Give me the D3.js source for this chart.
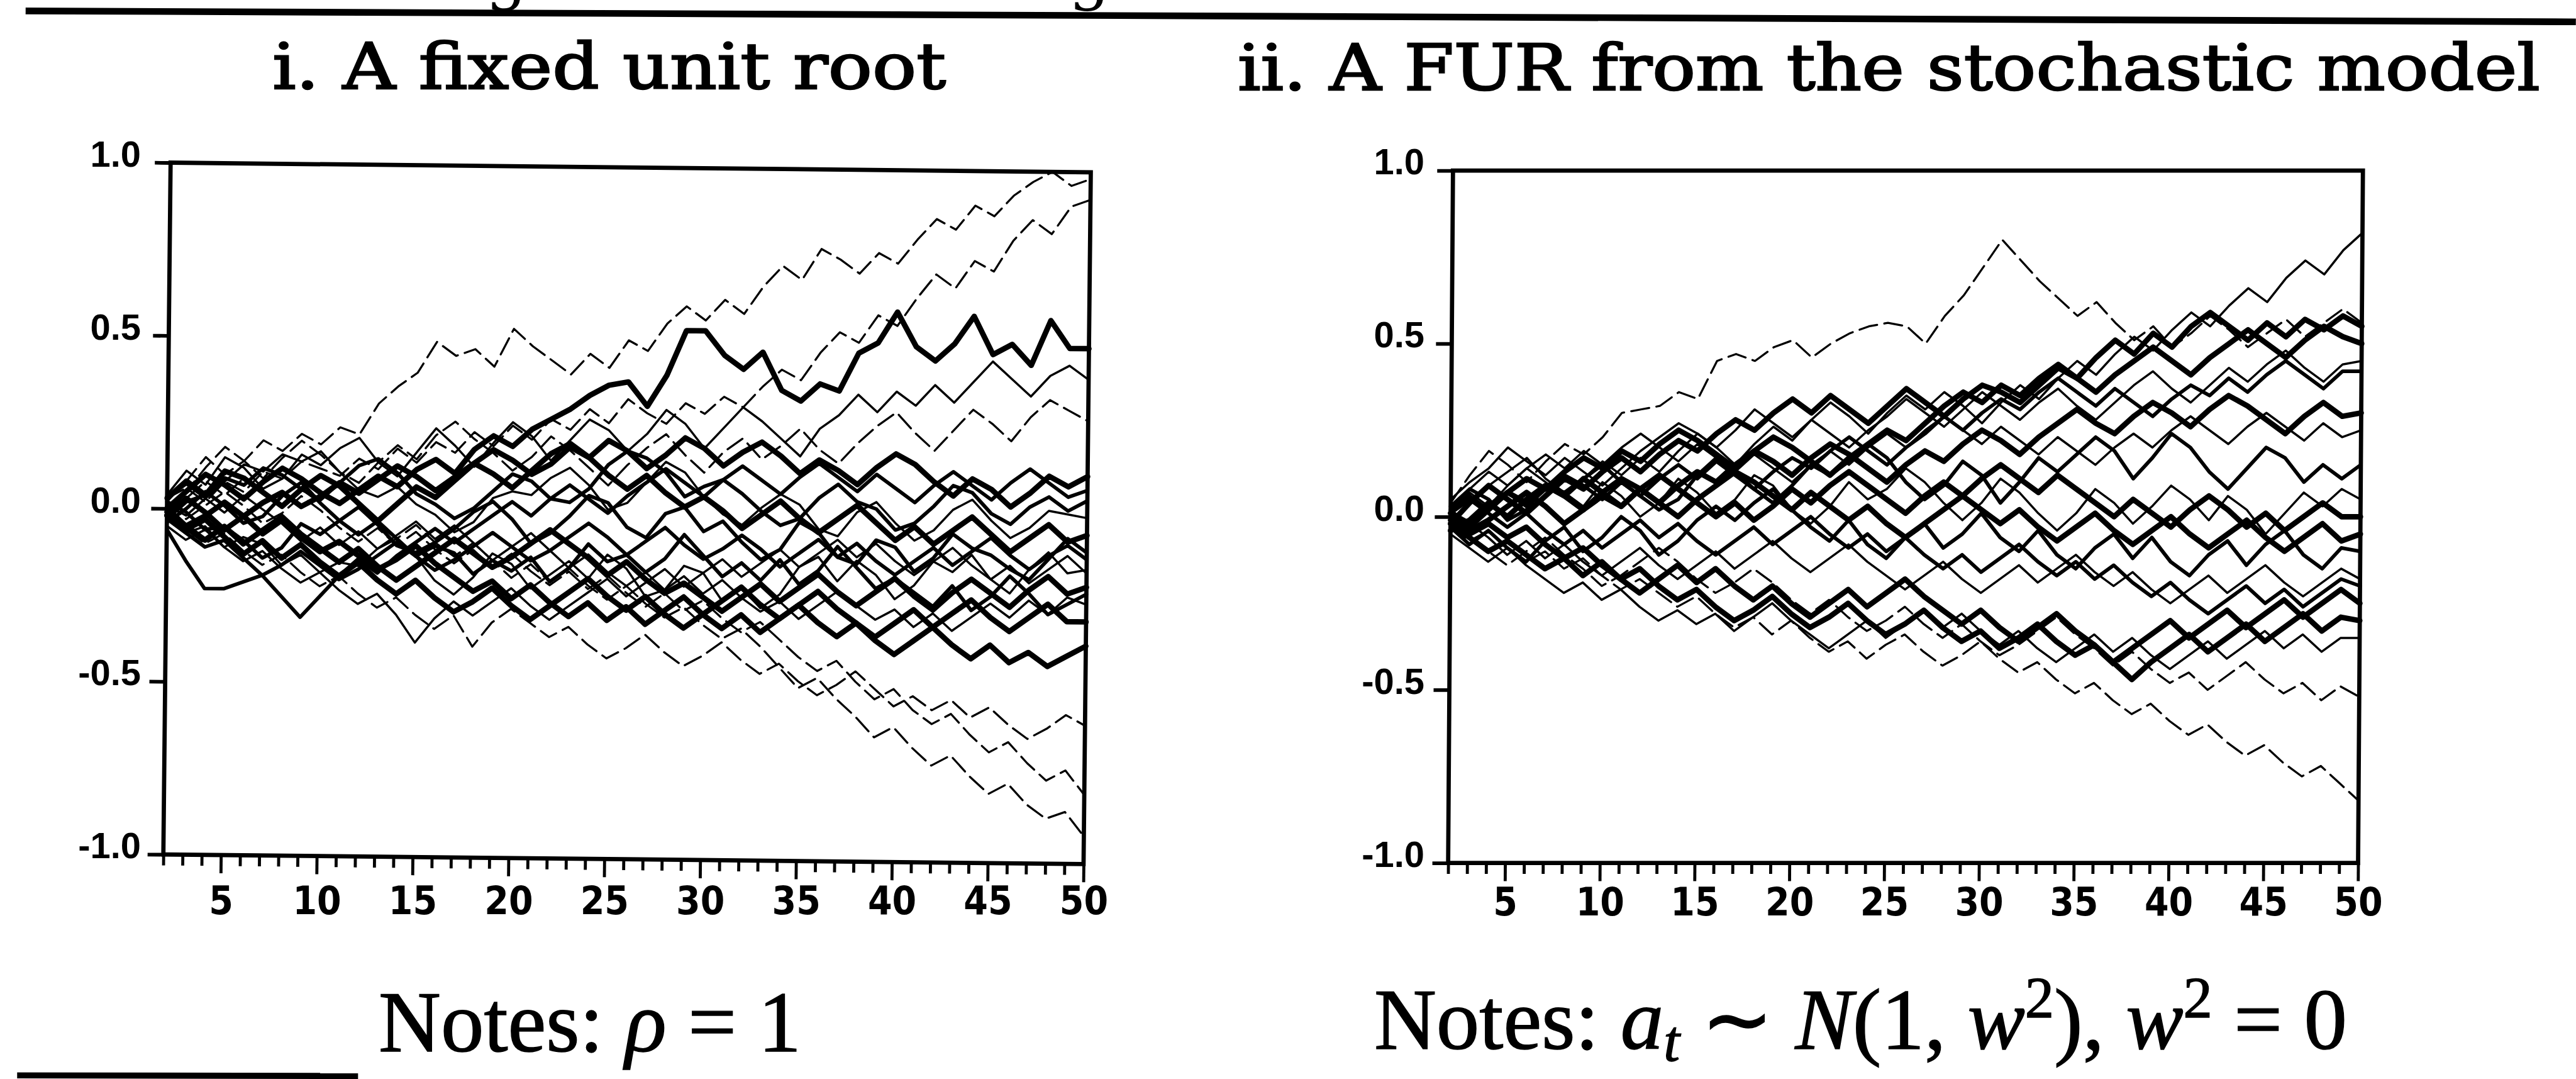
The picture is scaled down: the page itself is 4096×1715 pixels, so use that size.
<!DOCTYPE html>
<html><head><meta charset="utf-8">
<script src="https://cdn.jsdelivr.net/npm/d3@7"></script>
<style>html,body{margin:0;padding:0;background:#fff;overflow:hidden}</style>
</head><body>
<svg id="chart" width="4096" height="1715" viewBox="0 0 4246 1778"></svg>
<script>
// ---------- DATA ----------
const obs = [2,3,4,5,6,7,8,9,10,11,12,13,14,15,16,17,18,19,20,21,22,23,24,25,26,27,28,29,30,31,32,33,34,35,36,37,38,39,40,41,42,43,44,45,46,47,48,49,50];
const xTickValues = [5,10,15,20,25,30,35,40,45,50];
const xTickLabels = ["5","10","15","20","25","30","35","40","45","50"];
const yTickValues = [-1,-0.5,0,0.5,1];
const yTickLabels = ["-1.0","-0.5","0.0","0.5","1.0"];
const titleFixed = "i. A fixed unit root";
const titleFur = "ii. A FUR from the stochastic model";
const captionCut = "Figure 1: Simulating Fixed and Stochastic Unit Roots";

// Panel i: fixed unit root (rho = 1)
const fix01 = [0.02,0.08,0.15,0.10,0.14,0.20,0.17,0.22,0.19,0.24, 0.22,0.31,0.36,0.40,0.49,0.45,0.47,0.42,0.53,0.48, 0.44,0.40,0.46,0.42,0.50,0.47,0.55,0.60,0.56,0.62, 0.58,0.66,0.72,0.68,0.77,0.74,0.70,0.76,0.73,0.80, 0.86,0.83,0.90,0.87,0.93,0.97,1.00,0.96,0.98];
const fix02 = [0.03,0.06,0.02,0.08,0.05,0.11,0.09,0.14,0.12,0.10, 0.15,0.12,0.18,0.14,0.20,0.17,0.23,0.19,0.25,0.21, 0.27,0.24,0.30,0.26,0.33,0.29,0.26,0.32,0.29,0.34, 0.31,0.37,0.42,0.39,0.47,0.53,0.50,0.58,0.55,0.63, 0.70,0.66,0.74,0.71,0.80,0.86,0.82,0.90,0.92];
const fix03 = [0.04,0.11,0.07,0.15,0.12,0.06,0.09,0.16,0.13,0.18, 0.21,0.14,0.10,0.17,0.24,0.19,0.13,0.20,0.26,0.22, 0.15,0.21,0.27,0.24,0.18,0.23,0.30,0.26,0.19,0.25, 0.31,0.27,0.22,0.17,0.25,0.29,0.35,0.30,0.36,0.32, 0.38,0.33,0.39,0.45,0.40,0.35,0.41,0.44,0.40];
const fix04 = [0.00,0.05,0.10,0.07,0.03,0.08,0.12,0.09,0.05,0.02, 0.06,0.10,0.07,0.12,0.15,0.11,0.18,0.22,0.19,0.24, 0.27,0.30,0.34,0.37,0.38,0.31,0.40,0.53,0.53,0.46, 0.42,0.47,0.36,0.33,0.38,0.36,0.47,0.50,0.59,0.49, 0.45,0.50,0.58,0.47,0.50,0.44,0.57,0.49,0.49];
const fix05 = [-0.02,0.05,0.12,0.18,0.14,0.09,0.15,0.20,0.16,0.11, 0.08,0.14,0.19,0.15,0.22,0.26,0.21,0.17,0.12,0.16, 0.22,0.18,0.13,0.08,0.14,0.19,0.23,0.17,0.12,0.18, 0.22,0.16,0.20,0.25,0.19,0.15,0.21,0.26,0.30,0.24, 0.19,0.25,0.31,0.27,0.22,0.29,0.34,0.31,0.28];
const fix06 = [0.03,0.08,0.04,0.11,0.09,0.05,0.01,0.06,0.10,0.07, 0.02,-0.03,0.02,0.07,0.04,0.09,0.14,0.11,0.07,0.12, 0.17,0.20,0.16,0.21,0.18,0.13,0.17,0.22,0.19,0.14, 0.18,0.21,0.17,0.12,0.16,0.13,0.09,0.14,0.18,0.15, 0.10,0.06,0.11,0.08,0.03,0.07,0.12,0.09,0.12];
const fix07 = [-0.03,0.02,0.04,0.09,0.07,0.12,0.10,0.06,0.03,0.08, 0.13,0.15,0.11,0.05,0.02,-0.02,0.01,0.06,0.11,0.09, 0.04,0.03,0.07,0.14,0.18,0.16,0.12,0.05,0.08,0.10, 0.06,0.01,-0.03,-0.01,0.05,0.09,0.04,0.02,-0.04,-0.02, 0.03,0.09,0.07,0.01,-0.02,0.03,0.06,0.02,0.05];
const fix08 = [0.01,-0.02,0.03,0.08,0.13,0.11,0.16,0.14,0.17,0.11, 0.06,0.04,0.07,0.02,-0.01,-0.06,-0.03,0.04,0.06,0.05, 0.10,0.13,0.08,0.01,0.03,0.09,0.15,0.12,0.05,0.00, -0.03,0.02,0.06,0.03,-0.04,-0.06,0.01,0.04,-0.02,-0.07, -0.04,0.02,0.05,-0.01,-0.06,-0.03,0.02,0.01,0.00];
const fix09 = [-0.02,0.03,-0.01,-0.06,-0.02,0.02,0.05,0.01,0.04,0.08, 0.05,0.09,0.13,0.10,0.06,0.10,0.14,0.18,0.15,0.11, 0.14,0.19,0.16,0.11,0.07,0.11,0.06,0.02,0.05,0.01, -0.04,0.00,0.04,-0.01,-0.05,-0.01,0.03,-0.02,-0.07,-0.03, -0.08,-0.04,0.00,-0.05,-0.10,-0.06,-0.02,-0.07,-0.05];
const fix10 = [0.02,-0.01,-0.06,-0.05,-0.09,-0.14,-0.11,-0.04,-0.07,-0.03, 0.01,-0.04,-0.10,-0.12,-0.09,-0.05,0.00,0.03,-0.02,-0.09, -0.06,-0.01,0.05,0.03,-0.04,-0.07,0.00,0.02,-0.05,-0.02, -0.08,-0.13,-0.10,-0.02,-0.05,-0.12,-0.14,-0.07,-0.09,-0.16, -0.12,-0.05,-0.09,-0.11,-0.15,-0.18,-0.12,-0.06,-0.10];
const fix11 = [-0.03,-0.07,-0.05,-0.11,-0.08,-0.10,-0.16,-0.13,-0.18,-0.15, -0.16,-0.11,-0.08,-0.13,-0.20,-0.24,-0.19,-0.12,-0.15,-0.22, -0.18,-0.14,-0.19,-0.12,-0.16,-0.24,-0.22,-0.15,-0.17,-0.25, -0.21,-0.27,-0.23,-0.15,-0.12,-0.19,-0.13,-0.17,-0.24,-0.20, -0.13,-0.16,-0.11,-0.18,-0.22,-0.15,-0.10,-0.16,-0.15];
const fix12 = [0.00,-0.05,-0.09,-0.05,-0.10,-0.06,-0.02,-0.07,-0.11,-0.15, -0.11,-0.16,-0.20,-0.16,-0.12,-0.08,-0.12,-0.16,-0.13,-0.09, -0.05,-0.09,-0.13,-0.18,-0.14,-0.19,-0.23,-0.20,-0.24,-0.28, -0.24,-0.20,-0.25,-0.21,-0.17,-0.22,-0.26,-0.22,-0.18,-0.23, -0.27,-0.22,-0.18,-0.22,-0.26,-0.21,-0.17,-0.22,-0.20];
const fix13 = [-0.04,0.00,0.05,0.01,-0.04,-0.02,0.04,0.08,0.02,-0.03, -0.07,-0.03,-0.08,-0.13,-0.10,-0.12,-0.18,-0.14,-0.17,-0.13, -0.20,-0.16,-0.09,-0.14,-0.12,-0.17,-0.13,-0.06,-0.12,-0.18, -0.14,-0.19,-0.13,-0.20,-0.16,-0.09,-0.15,-0.21,-0.18,-0.22, -0.26,-0.20,-0.27,-0.23,-0.17,-0.22,-0.28,-0.25,-0.22];
const fix14 = [-0.01,-0.06,-0.03,-0.08,-0.13,-0.09,-0.14,-0.10,-0.15,-0.19, -0.15,-0.20,-0.24,-0.20,-0.25,-0.29,-0.26,-0.22,-0.27,-0.31, -0.27,-0.23,-0.19,-0.24,-0.28,-0.24,-0.29,-0.33,-0.29,-0.25, -0.21,-0.26,-0.30,-0.26,-0.22,-0.27,-0.31,-0.35,-0.31,-0.27, -0.32,-0.28,-0.24,-0.29,-0.33,-0.29,-0.25,-0.30,-0.30];
const fix15 = [-0.02,-0.05,-0.02,0.02,-0.02,-0.07,-0.03,-0.08,-0.12,-0.09, -0.13,-0.17,-0.14,-0.10,-0.15,-0.19,-0.23,-0.20,-0.25,-0.21, -0.26,-0.30,-0.26,-0.31,-0.27,-0.32,-0.28,-0.24,-0.29,-0.33, -0.29,-0.34,-0.30,-0.26,-0.31,-0.35,-0.31,-0.36,-0.40,-0.36, -0.32,-0.37,-0.41,-0.37,-0.42,-0.39,-0.43,-0.40,-0.37];
const fix16 = [0.03,0.07,0.03,-0.01,0.04,0.00,-0.04,-0.09,-0.05,-0.10, -0.06,-0.11,-0.07,-0.03,-0.08,-0.04,-0.09,-0.14,-0.10,-0.06, -0.11,-0.16,-0.12,-0.17,-0.21,-0.17,-0.22,-0.18,-0.23,-0.19, -0.24,-0.28,-0.25,-0.30,-0.26,-0.22,-0.26,-0.30,-0.27,-0.32, -0.28,-0.33,-0.29,-0.25,-0.29,-0.24,-0.28,-0.23,-0.25];
const fix17 = [0.02,-0.03,0.01,0.05,0.01,-0.04,-0.01,0.04,0.00,-0.05, -0.09,-0.05,-0.10,-0.06,-0.11,-0.15,-0.11,-0.16,-0.12,-0.17, -0.21,-0.17,-0.22,-0.18,-0.23,-0.27,-0.23,-0.28,-0.25,-0.30, -0.34,-0.31,-0.36,-0.41,-0.45,-0.42,-0.48,-0.53,-0.50,-0.56, -0.60,-0.57,-0.63,-0.68,-0.65,-0.71,-0.76,-0.73,-0.80];
const fix18 = [-0.01,0.03,0.08,0.04,0.09,0.05,0.01,0.06,0.02,-0.03, 0.01,-0.04,-0.08,-0.04,-0.09,-0.13,-0.09,-0.14,-0.19,-0.15, -0.20,-0.16,-0.21,-0.25,-0.21,-0.26,-0.30,-0.27,-0.32,-0.36, -0.33,-0.38,-0.44,-0.50,-0.47,-0.53,-0.58,-0.64,-0.61,-0.67, -0.72,-0.69,-0.75,-0.80,-0.77,-0.83,-0.87,-0.85,-0.92];
const fix19 = [-0.06,-0.15,-0.23,-0.23,-0.21,-0.19,-0.16,-0.12,-0.16,-0.20, -0.17,-0.13,-0.09,-0.13,-0.17,-0.14,-0.10,-0.06,-0.10,-0.14, -0.11,-0.07,-0.03,-0.07,-0.12,-0.08,-0.04,-0.09,-0.13,-0.10, -0.06,-0.10,-0.15,-0.11,-0.07,-0.12,-0.08,-0.13,-0.17,-0.13, -0.09,-0.14,-0.10,-0.06,-0.11,-0.15,-0.11,-0.08,-0.12];
const fix20 = [-0.03,-0.07,-0.11,-0.09,-0.14,-0.19,-0.25,-0.31,-0.25,-0.19, -0.14,-0.18,-0.13,-0.09,-0.05,-0.09,-0.05,-0.01,0.03,-0.01, 0.04,0.08,0.04,0.00,0.05,0.09,0.13,0.09,0.05,0.10, 0.14,0.10,0.06,0.11,0.15,0.11,0.07,0.12,0.08,0.04, 0.09,0.13,0.09,0.05,0.10,0.14,0.10,0.06,0.08];
const fix21 = [-0.05,-0.09,-0.06,-0.11,-0.15,-0.12,-0.17,-0.21,-0.18,-0.23, -0.27,-0.24,-0.30,-0.38,-0.31,-0.26,-0.30,-0.26,-0.22,-0.27, -0.31,-0.27,-0.23,-0.19,-0.24,-0.20,-0.16,-0.21,-0.17,-0.13, -0.18,-0.14,-0.10,-0.15,-0.11,-0.07,-0.12,-0.08,-0.13,-0.17, -0.13,-0.09,-0.14,-0.18,-0.14,-0.19,-0.15,-0.11,-0.16];
const fix22 = [-0.02,-0.06,-0.10,-0.07,-0.12,-0.16,-0.13,-0.18,-0.22,-0.19, -0.24,-0.28,-0.25,-0.30,-0.34,-0.30,-0.39,-0.32,-0.28,-0.32, -0.36,-0.33,-0.38,-0.42,-0.39,-0.35,-0.40,-0.44,-0.41,-0.37, -0.42,-0.46,-0.43,-0.48,-0.52,-0.49,-0.45,-0.50,-0.55,-0.52, -0.56,-0.53,-0.58,-0.55,-0.60,-0.64,-0.61,-0.57,-0.60];

// Panel ii: FUR from the stochastic model
const fur01 = [0.04,0.12,0.19,0.15,0.10,0.16,0.21,0.18,0.23,0.30, 0.31,0.32,0.36,0.34,0.45,0.47,0.45,0.49,0.51,0.46, 0.50,0.53,0.55,0.56,0.55,0.50,0.58,0.64,0.72,0.80, 0.74,0.68,0.63,0.58,0.62,0.56,0.51,0.55,0.49,0.53, 0.58,0.54,0.49,0.53,0.57,0.52,0.56,0.60,0.56];
const fur02 = [0.02,0.07,0.03,0.09,0.14,0.10,0.06,0.11,0.16,0.12, 0.17,0.13,0.19,0.24,0.20,0.15,0.21,0.26,0.22,0.28, 0.33,0.29,0.24,0.30,0.35,0.31,0.36,0.32,0.27,0.33, 0.38,0.34,0.40,0.45,0.41,0.47,0.52,0.48,0.54,0.59, 0.55,0.61,0.66,0.62,0.69,0.74,0.70,0.77,0.82];
const fur03 = [-0.02,0.04,0.09,0.05,0.01,0.06,0.11,0.08,0.13,0.17, 0.13,0.18,0.22,0.19,0.24,0.28,0.25,0.30,0.34,0.30, 0.35,0.31,0.27,0.32,0.37,0.33,0.29,0.34,0.38,0.36, 0.33,0.38,0.43,0.40,0.46,0.51,0.47,0.53,0.49,0.55, 0.59,0.55,0.51,0.56,0.52,0.57,0.54,0.58,0.55];
const fur04 = [0.05,0.10,0.14,0.20,0.16,0.12,0.17,0.13,0.09,0.14, 0.19,0.23,0.27,0.24,0.20,0.25,0.31,0.27,0.23,0.28, 0.24,0.20,0.25,0.29,0.34,0.30,0.26,0.31,0.36,0.32, 0.28,0.33,0.37,0.32,0.28,0.33,0.38,0.42,0.37,0.33, 0.38,0.43,0.39,0.44,0.48,0.43,0.39,0.44,0.45];
const fur05 = [0.01,-0.03,0.02,0.07,0.04,0.09,0.06,0.02,0.07,0.11, 0.08,0.04,0.09,0.13,0.10,0.15,0.19,0.16,0.12,0.17, 0.21,0.18,0.14,0.10,0.15,0.19,0.16,0.21,0.25,0.22, 0.18,0.23,0.27,0.31,0.27,0.24,0.29,0.33,0.30,0.26, 0.31,0.35,0.32,0.28,0.24,0.29,0.33,0.29,0.30];
const fur06 = [0.03,0.08,0.05,-0.01,0.02,0.09,0.07,0.11,0.15,0.10, 0.06,0.02,0.05,0.12,0.17,0.13,0.08,0.04,0.09,0.15, 0.12,0.16,0.21,0.17,0.10,0.05,0.09,0.16,0.12,0.04, 0.10,0.17,0.13,0.18,0.23,0.19,0.11,0.17,0.24,0.20, 0.13,0.08,0.14,0.20,0.17,0.10,0.15,0.11,0.15];
const fur07 = [-0.01,0.04,0.09,0.13,0.17,0.11,0.07,0.03,0.10,0.06, 0.00,0.04,0.11,0.07,0.01,0.05,0.12,0.09,0.02,-0.02, 0.03,0.10,0.05,0.08,0.14,0.10,0.04,-0.01,0.04,0.11, 0.07,0.01,-0.04,0.01,0.08,0.04,-0.02,0.03,0.09,0.05, -0.01,0.06,0.02,-0.05,0.01,0.07,0.03,0.08,0.05];
const fur08 = [0.00,-0.04,-0.01,0.03,0.07,0.03,-0.02,0.02,0.06,0.03, 0.08,0.04,0.00,0.05,0.09,0.13,0.10,0.06,0.02,0.07, 0.03,-0.01,0.03,-0.02,-0.06,-0.02,0.02,0.06,0.02,-0.02, 0.02,-0.03,-0.07,-0.03,0.01,-0.04,-0.08,-0.04,0.00,-0.05, -0.09,-0.05,-0.01,-0.06,-0.10,-0.06,-0.02,-0.07,-0.05];
const fur09 = [-0.03,-0.08,-0.04,-0.09,-0.13,-0.07,-0.03,-0.10,-0.06,0.00, -0.04,-0.11,-0.07,-0.01,0.03,-0.01,0.04,0.08,0.02,-0.03, -0.07,-0.01,-0.08,-0.12,-0.06,-0.02,-0.09,-0.05,0.01,-0.06, -0.10,-0.04,-0.11,-0.15,-0.09,-0.05,-0.12,-0.06,-0.13,-0.17, -0.11,-0.07,-0.14,-0.08,-0.04,-0.11,-0.15,-0.09,-0.10];
const fur10 = [0.02,-0.02,-0.06,-0.11,-0.07,-0.12,-0.08,-0.13,-0.17,-0.13, -0.09,-0.14,-0.18,-0.14,-0.10,-0.15,-0.11,-0.07,-0.12,-0.16, -0.12,-0.08,-0.13,-0.17,-0.21,-0.17,-0.13,-0.18,-0.22,-0.18, -0.14,-0.19,-0.15,-0.11,-0.16,-0.20,-0.16,-0.21,-0.25,-0.21, -0.17,-0.22,-0.18,-0.14,-0.19,-0.23,-0.19,-0.15,-0.18];
const fur11 = [-0.02,-0.06,-0.10,-0.07,-0.11,-0.15,-0.12,-0.17,-0.13,-0.18, -0.22,-0.18,-0.14,-0.19,-0.15,-0.20,-0.24,-0.20,-0.25,-0.29, -0.25,-0.21,-0.26,-0.22,-0.18,-0.23,-0.27,-0.31,-0.27,-0.32, -0.36,-0.32,-0.28,-0.33,-0.37,-0.42,-0.38,-0.34,-0.30,-0.35, -0.31,-0.27,-0.32,-0.28,-0.24,-0.29,-0.25,-0.21,-0.25];
const fur12 = [-0.01,-0.05,-0.02,-0.06,-0.03,-0.08,-0.12,-0.09,-0.14,-0.18, -0.15,-0.20,-0.24,-0.21,-0.26,-0.30,-0.27,-0.23,-0.28,-0.32, -0.29,-0.25,-0.30,-0.34,-0.31,-0.27,-0.32,-0.36,-0.33,-0.38, -0.35,-0.31,-0.36,-0.40,-0.37,-0.42,-0.47,-0.42,-0.38,-0.34, -0.39,-0.35,-0.31,-0.36,-0.32,-0.28,-0.33,-0.29,-0.30];
const fur13 = [-0.03,-0.07,-0.04,-0.09,-0.13,-0.10,-0.15,-0.12,-0.17,-0.21, -0.18,-0.22,-0.26,-0.23,-0.28,-0.32,-0.29,-0.34,-0.30,-0.35, -0.39,-0.36,-0.41,-0.37,-0.34,-0.39,-0.43,-0.40,-0.36,-0.41, -0.45,-0.42,-0.47,-0.51,-0.48,-0.53,-0.57,-0.54,-0.59,-0.63, -0.60,-0.65,-0.69,-0.66,-0.71,-0.75,-0.72,-0.77,-0.82];
const fur14 = [0.01,0.05,0.01,-0.03,0.01,-0.04,-0.08,-0.04,-0.09,-0.05, -0.01,-0.06,-0.02,-0.07,-0.11,-0.07,-0.03,-0.08,-0.04,0.00, -0.05,-0.09,-0.05,-0.10,-0.06,-0.11,-0.15,-0.11,-0.16,-0.12, -0.08,-0.13,-0.17,-0.13,-0.18,-0.14,-0.19,-0.23,-0.19,-0.24, -0.28,-0.24,-0.20,-0.25,-0.21,-0.26,-0.22,-0.18,-0.20];
const fur15 = [0.03,0.08,0.13,0.09,0.14,0.18,0.14,0.19,0.15,0.20, 0.24,0.20,0.16,0.21,0.17,0.13,0.18,0.14,0.10,0.15, 0.19,0.15,0.20,0.24,0.20,0.25,0.29,0.25,0.21,0.26, 0.22,0.18,0.23,0.19,0.15,0.20,0.24,0.20,0.25,0.29, 0.25,0.21,0.26,0.30,0.26,0.22,0.27,0.23,0.25];
const fur16 = [-0.04,-0.01,0.04,0.00,0.05,0.09,0.06,0.11,0.07,0.03, 0.08,0.12,0.08,0.04,0.00,0.04,-0.01,0.03,0.08,0.04, 0.09,0.13,0.09,0.05,0.01,0.06,0.10,0.06,0.11,0.15, 0.11,0.07,0.12,0.08,0.04,0.00,0.05,0.01,-0.03,0.02, 0.06,0.02,-0.03,0.01,-0.04,0.00,0.04,0.00,0.00];
const fur17 = [-0.05,-0.09,-0.13,-0.09,-0.14,-0.18,-0.22,-0.19,-0.24,-0.21, -0.26,-0.30,-0.27,-0.31,-0.28,-0.33,-0.29,-0.25,-0.30,-0.34, -0.38,-0.34,-0.30,-0.35,-0.31,-0.27,-0.32,-0.28,-0.33,-0.37, -0.33,-0.38,-0.42,-0.38,-0.34,-0.39,-0.35,-0.40,-0.44,-0.40, -0.36,-0.41,-0.37,-0.33,-0.38,-0.34,-0.39,-0.35,-0.35];
const fur18 = [0.02,0.06,0.02,0.07,0.03,0.08,0.12,0.09,0.05,0.10, 0.06,0.11,0.15,0.11,0.16,0.12,0.08,0.13,0.17,0.14, 0.19,0.23,0.19,0.15,0.20,0.24,0.29,0.25,0.30,0.34, 0.31,0.36,0.40,0.36,0.32,0.37,0.33,0.29,0.34,0.38, 0.35,0.40,0.36,0.41,0.45,0.41,0.37,0.42,0.42];
const fur19 = [-0.02,-0.06,-0.10,-0.14,-0.10,-0.06,-0.11,-0.15,-0.20,-0.17, -0.13,-0.09,-0.13,-0.18,-0.22,-0.19,-0.15,-0.19,-0.24,-0.28, -0.24,-0.29,-0.33,-0.30,-0.26,-0.31,-0.35,-0.31,-0.36,-0.40, -0.37,-0.33,-0.29,-0.34,-0.38,-0.43,-0.39,-0.44,-0.48,-0.45, -0.50,-0.46,-0.42,-0.47,-0.51,-0.48,-0.53,-0.49,-0.52];
const fur20 = [0.01,-0.02,0.03,0.07,0.11,0.08,0.13,0.17,0.14,0.19, 0.16,0.21,0.25,0.22,0.18,0.14,0.19,0.23,0.20,0.16, 0.12,0.17,0.21,0.25,0.22,0.27,0.32,0.36,0.33,0.38, 0.35,0.40,0.44,0.40,0.36,0.41,0.45,0.49,0.45,0.41, 0.46,0.50,0.54,0.50,0.46,0.51,0.55,0.52,0.50];

const fixedSeries = [fix01,fix02,fix03,fix04,fix05,fix06,fix07,fix08,fix09,fix10,fix11,fix12,fix13,fix14,fix15,fix16,fix17,fix18,fix19,fix20,fix21,fix22];
const furSeries = [fur01,fur02,fur03,fur04,fur05,fur06,fur07,fur08,fur09,fur10,fur11,fur12,fur13,fur14,fur15,fur16,fur17,fur18,fur19,fur20];

// ---------- STYLES (kept apart from data) ----------
const fixedStyle = ["td","td","t","k","td","k","m","t","k","m","t","k","m","k","k","t","td","td","m","m","t","td"];
const furStyle   = ["td","t","k","t","k","m","t","k","m","t","k","k","td","m","t","k","t","m","td","k"];
const widthOf = {k: 9, m: 6, t: 3.6, td: 3.4};
const dashOf = {k: null, m: null, t: null, td: "30 12"};

// ---------- DRAW ----------
const svg = d3.select('#chart');
svg.append('rect').attr('x',0).attr('y',0).attr('width',4246).attr('height',1778).attr('fill','#fff');

const serif = "'DejaVu Serif', 'Liberation Serif', serif";
const times = "'Liberation Serif', 'Times New Roman', serif";
const sans = "'Liberation Sans', Arial, sans-serif";
const narrow = "'Liberation Sans Narrow', 'Arial Narrow', 'DejaVu Sans Condensed', sans-serif";

// cut-off caption and rules
svg.append('text').attr('x', 690).attr('y', -4)
  .attr('font-family', serif).attr('font-size', 100)
  .attr('textLength', 2950).attr('lengthAdjust', 'spacingAndGlyphs')
  .text(captionCut);
svg.append('line').attr('x1', 42).attr('y1', 18).attr('x2', 4246).attr('y2', 36)
  .attr('stroke', '#000').attr('stroke-width', 11);
svg.append('line').attr('x1', 28).attr('y1', 1772).attr('x2', 590).attr('y2', 1773)
  .attr('stroke', '#000').attr('stroke-width', 10);

function drawPanel(cfg) {
  const g = svg.append('g');
  const x = d3.scaleLinear().domain([2, 50]).range([cfg.left, cfg.right]);
  const y = d3.scaleLinear().domain([-1, 1]).range([cfg.bottom, cfg.top]);
  const plot = g.append('g').attr('transform', cfg.plotTransform);

  const line = d3.line().x(d => x(d[0])).y(d => y(d[1])).curve(d3.curveLinear);
  cfg.series.forEach((s, i) => {
    const st = cfg.styles[i];
    plot.append('path')
      .attr('d', line(d3.zip(obs, s)))
      .attr('fill', 'none').attr('stroke', '#000')
      .attr('stroke-width', widthOf[st])
      .attr('stroke-linejoin', 'round').attr('stroke-linecap', 'round')
      .attr('stroke-dasharray', dashOf[st]);
  });

  plot.append('rect')
    .attr('x', cfg.left).attr('y', cfg.top)
    .attr('width', cfg.right - cfg.left).attr('height', cfg.bottom - cfg.top)
    .attr('fill', 'none').attr('stroke', '#000').attr('stroke-width', 7);

  const ya = plot.append('g').attr('transform', `translate(${cfg.left},0)`)
    .call(d3.axisLeft(y).tickValues(yTickValues).tickSize(26).tickFormat(''));
  ya.select('.domain').remove();
  ya.selectAll('line').attr('stroke-width', 6);

  const xm = plot.append('g').attr('transform', `translate(0,${cfg.bottom})`)
    .call(d3.axisBottom(x).tickValues(obs.filter(v => xTickValues.indexOf(v) < 0)).tickSize(18).tickFormat(''));
  xm.select('.domain').remove();
  xm.selectAll('line').attr('stroke-width', 5);
  const xM = plot.append('g').attr('transform', `translate(0,${cfg.bottom})`)
    .call(d3.axisBottom(x).tickValues(xTickValues).tickSize(30).tickFormat(''));
  xM.select('.domain').remove();
  xM.selectAll('line').attr('stroke-width', 5);

  const yl = g.append('g').attr('transform', `translate(${cfg.yLabelRight},0)`)
    .call(d3.axisLeft(y).tickValues(yTickValues).tickSize(0)
      .tickFormat((d, i) => yTickLabels[i]));
  yl.select('.domain').remove();
  yl.selectAll('text')
    .attr('x', 0).attr('dy', null).attr('y', 6)
    .attr('font-family', sans).attr('font-weight', 'bold').attr('font-size', 60)
    .attr('text-anchor', 'end').attr('fill', '#000');

  const xl = d3.scaleLinear().domain([2, 50]).range([cfg.labelLeft, cfg.labelRight]);
  const xla = g.append('g').attr('transform', `translate(0,${cfg.xLabelBase})`)
    .call(d3.axisBottom(xl).tickValues(xTickValues).tickSize(0)
      .tickFormat((d, i) => xTickLabels[i]));
  xla.select('.domain').remove();
  xla.selectAll('text')
    .attr('y', 0).attr('dy', null)
    .attr('font-family', narrow).attr('font-weight', 'bold').attr('font-size', 64)
    .attr('fill', '#000');

  svg.append('text').attr('x', cfg.titleX).attr('y', cfg.titleY)
    .attr('font-family', serif).attr('font-size', 104)
    .attr('textLength', cfg.titleW).attr('lengthAdjust', 'spacingAndGlyphs')
    .attr('stroke', '#000').attr('stroke-width', 2.6)
    .text(cfg.title);
}

drawPanel({
  series: fixedSeries, styles: fixedStyle, title: titleFixed,
  left: 281, right: 1798, top: 268, bottom: 1408,
  plotTransform: 'rotate(0.6, 281, 268)',
  yLabelRight: 232, labelLeft: 269, labelRight: 1786, xLabelBase: 1506,
  titleX: 449, titleY: 146, titleW: 1110
});
drawPanel({
  series: furSeries, styles: furStyle, title: titleFur,
  left: 2387, right: 3887, top: 281, bottom: 1422,
  plotTransform: 'translate(0,1422) skewX(-0.4) translate(0,-1422)',
  yLabelRight: 2348, labelLeft: 2387, labelRight: 3887, xLabelBase: 1508,
  titleX: 2040, titleY: 148, titleW: 2147
});

// Notes
const noteSize = 142, smallSize = 96;
const n1 = svg.append('text').attr('x', 624).attr('y', 1732)
  .attr('font-family', times).attr('font-size', noteSize)
  .attr('stroke', '#000').attr('stroke-width', 1.5);
n1.append('tspan').text('Notes: ');
n1.append('tspan').attr('font-style', 'italic').text('ρ');
n1.append('tspan').text(' = 1');

const n2 = svg.append('text').attr('x', 2265).attr('y', 1728)
  .attr('font-family', times).attr('font-size', noteSize)
  .attr('stroke', '#000').attr('stroke-width', 1.5);
n2.append('tspan').text('Notes: ');
n2.append('tspan').attr('font-style', 'italic').text('a');
n2.append('tspan').attr('font-style', 'italic').attr('font-size', smallSize).attr('dy', 20).text('t');
n2.append('tspan').attr('dy', -20).text(' ∼ ');
n2.append('tspan').attr('font-style', 'italic').text('N');
n2.append('tspan').text('(1, ');
n2.append('tspan').attr('font-style', 'italic').text('w');
n2.append('tspan').attr('font-size', smallSize).attr('dy', -52).text('2');
n2.append('tspan').attr('dy', 52).text('),  ');
n2.append('tspan').attr('font-style', 'italic').text('w');
n2.append('tspan').attr('font-size', smallSize).attr('dy', -52).text('2');
n2.append('tspan').attr('dy', 52).text(' = 0');
</script>
</body></html>
